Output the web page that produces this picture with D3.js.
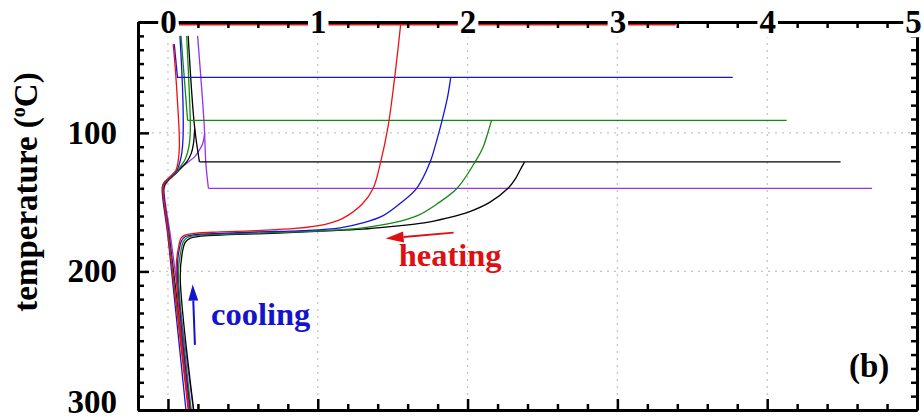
<!DOCTYPE html>
<html><head><meta charset="utf-8">
<script src="https://cdn.jsdelivr.net/npm/d3@7"></script>
<style>
body{margin:0;background:#fff;}
svg{display:block;font-family:"Liberation Serif","Times New Roman",serif;}
</style></head><body>
<svg id="chart" width="924" height="420"></svg>
<script>
// Isothermal hold temperatures (°C) of the five runs and their colours
const holdTemps = [22, 60, 91, 121, 140];
const seriesColors = ["#ee1111", "#1414dd", "#138a13", "#000000", "#9b30ee"];

// Extent of each isothermal hold along x
const holdStart = [0.073, 0.064, 0.131, 0.21, 0.27];
const holdEnd   = [3.39, 3.77, 4.13, 4.49, 4.70];

// Steep branch from room temperature down through the supercooling kink to 300 °C  [x, T]
const coolRed = [[0.035,36],[0.05,55],[0.065,80],[0.075,100],[0.076,111],[0.07,119],[0.053,127],[0.02,131],[-0.01,134],[-0.03,136.5],[-0.035,139],[0.0,172],[0.135,300]];
const coolBlue = [[0.08,30],[0.09,50],[0.098,70],[0.102,91],[0.1,105],[0.093,114],[0.08,121],[0.06,127],[0.03,130.5],[0.0,133.5],[-0.025,136],[-0.038,139],[0.0,175],[0.12,300]];
const coolGreen = [[0.125,30],[0.138,60],[0.149,91],[0.148,102],[0.138,111],[0.115,119],[0.085,124],[0.06,128],[0.03,131],[0.0,134],[-0.025,137],[-0.033,140],[0.005,175],[0.14,300]];
const coolBlack = [[0.178,97],[0.17,108],[0.155,115],[0.125,121],[0.09,125],[0.06,128.5],[0.03,131.5],[0.0,134.5],[-0.022,137.5],[-0.03,140.5],[0.01,176],[0.15,300]];
const coolPurple = [[0.245,100],[0.231,108],[0.2,114],[0.176,117.5],[0.13,121.5],[0.09,125],[0.064,128],[0.035,131],[0.005,134],[-0.018,137.5],[-0.026,141],[0.02,177],[0.17,300]];

// Short branch from room temperature to the start of each hold  [x, T]
const upperRed = [];
const upperBlue = [[0.042,36],[0.064,60.5]];
const upperGreen = [[0.087,30],[0.131,91]];
const upperBlack = [[0.135,30],[0.176,94],[0.21,121]];
const upperPurple = [[0.198,30],[0.242,94.5],[0.253,122],[0.27,140]];

// Heating branch: from the hold temperature through the melting plateau  [x, T]
const heatRed = [[1.553,22],[1.535,40],[1.51,63],[1.47,95],[1.42,121],[1.37,140],[1.3,151],[1.17,161.5],[1.05,166],[0.85,169],[0.6,170.5],[0.35,171.5],[0.18,172.5],[0.11,174],[0.087,176],[0.07,183],[0.055,197],[0.14,300]];
const heatBlue = [[1.887,60.5],[1.865,75],[1.83,91],[1.79,107],[1.75,121],[1.66,140],[1.56,150],[1.44,159.5],[1.3,165],[1.15,168.5],[0.9,170.5],[0.6,171.5],[0.35,172.5],[0.18,173.5],[0.115,175],[0.093,177.5],[0.075,184],[0.062,198],[0.147,300]];
const heatGreen = [[2.16,91],[2.135,100],[2.105,110],[2.05,121],[1.93,140],[1.8,151],[1.67,159.5],[1.5,165],[1.3,168.5],[1.05,170.5],[0.7,172],[0.4,173],[0.2,174],[0.13,175.5],[0.103,178.5],[0.085,186],[0.07,200],[0.155,300]];
const heatBlack = [[2.38,121],[2.35,127],[2.32,133],[2.27,140],[2.15,150],[2.01,157],[1.86,161.5],[1.71,165],[1.5,167.5],[1.3,169.5],[1.0,171],[0.7,172.5],[0.4,173.5],[0.22,174.5],[0.15,176],[0.115,179],[0.095,187],[0.082,204],[0.172,300]];
const heatPurple = [];

// Axis ticks
const xMajorTicks = [0, 1, 2, 3, 4, 5];
const yMajorTicks = [100, 200, 300];

const coolPaths = [coolRed, coolBlue, coolGreen, coolBlack, coolPurple];
const upperPaths = [upperRed, upperBlue, upperGreen, upperBlack, upperPurple];
const heatPaths = [heatRed, heatBlue, heatGreen, heatBlack, heatPurple];

const series = holdTemps.map((t, i) => ({
  color: seriesColors[i],
  paths: [
    coolPaths[i],
    upperPaths[i],
    heatPaths[i],
    [[holdStart[i], t], [holdEnd[i], t]]
  ].filter(p => p.length > 1)
}));

const m = {left: 138, right: 917, top: 22, bottom: 410};
const x = d3.scaleLinear().domain([-0.2, 5]).range([m.left, m.right]);
const y = d3.scaleLinear().domain([20, 300]).range([m.top, m.bottom]);

const svg = d3.select("#chart");

svg.append("defs").append("clipPath").attr("id", "plot")
  .append("rect").attr("x", m.left).attr("y", m.top)
  .attr("width", m.right - m.left).attr("height", m.bottom - m.top);

// dotted grid
const grid = svg.append("g").attr("stroke", "#c4c4c4").attr("stroke-width", 1.3)
  .attr("stroke-dasharray", "2,5");
grid.selectAll("line.v").data(xMajorTicks).join("line")
  .attr("x1", d => x(d)).attr("x2", d => x(d)).attr("y1", m.top).attr("y2", m.bottom);
grid.selectAll("line.h").data([100, 200]).join("line")
  .attr("y1", d => y(d)).attr("y2", d => y(d)).attr("x1", m.left).attr("x2", m.right);

// curves
const line = d3.line().x(d => x(d[0])).y(d => y(d[1])).curve(d3.curveCatmullRom.alpha(0.5));
const curves = svg.append("g").attr("clip-path", "url(#plot)").attr("fill", "none")
  .attr("stroke-width", 1.3).attr("stroke-linejoin", "round");
series.slice().reverse().forEach(s => {
  curves.selectAll(null).data(s.paths).join("path")
    .attr("stroke", s.color).attr("d", line);
});

// annotations
function arrow(x0, t0, x1, t1, color, len, half) {
  const ax = x(x0), ay = y(t0), bx = x(x1), by = y(t1);
  const ang = Math.atan2(by - ay, bx - ax);
  const cx = bx - len * Math.cos(ang), cy = by - len * Math.sin(ang);
  const nx = -Math.sin(ang) * half, ny = Math.cos(ang) * half;
  svg.append("line").attr("x1", ax).attr("y1", ay).attr("x2", cx).attr("y2", cy)
    .attr("stroke", color).attr("stroke-width", 2);
  svg.append("path")
    .attr("d", `M${bx},${by}L${cx + nx},${cy + ny}L${cx - nx},${cy - ny}Z`)
    .attr("fill", color);
}
arrow(1.907, 172, 1.453, 176.3, "#dd1111", 18, 5.5);
arrow(0.18, 253, 0.165, 209.5, "#1414cc", 16, 5);

svg.append("text").attr("x", x(1.54)).attr("y", y(196.4))
  .attr("font-size", 32.5).attr("font-weight", "bold").attr("fill", "#dd1111").text("heating");
svg.append("text").attr("x", x(0.287)).attr("y", y(238.6))
  .attr("font-size", 32.5).attr("font-weight", "bold").attr("fill", "#1414cc").text("cooling");
svg.append("text").attr("x", 849).attr("y", 377)
  .attr("font-size", 33).attr("font-weight", "bold").text("(b)");

// axes
const minorX = d3.range(-0.2, 5.001, 0.2).filter(v => Math.abs(v - Math.round(v)) > 1e-6);
const minorY = d3.range(30, 300, 10).filter(v => v % 100 !== 0);

function styleAxis(g) {
  g.selectAll(".domain").attr("stroke", "#000").attr("stroke-width", 3);
  g.selectAll(".tick line").attr("stroke", "#000").attr("stroke-width", 2.5);
}

// bottom
svg.append("g").attr("transform", `translate(0,${m.bottom})`)
  .call(d3.axisBottom(x).tickValues(minorX).tickSize(-6).tickSizeOuter(0).tickFormat(""))
  .call(styleAxis);
svg.append("g").attr("transform", `translate(0,${m.bottom})`)
  .call(d3.axisBottom(x).tickValues(xMajorTicks).tickSize(-11).tickSizeOuter(0).tickFormat(""))
  .call(styleAxis);
// right
svg.append("g").attr("transform", `translate(${m.right},0)`)
  .call(d3.axisRight(y).tickValues(minorY.concat([100, 200])).tickSize(-6).tickSizeOuter(0).tickFormat(""))
  .call(styleAxis);
// left
svg.append("g").attr("transform", `translate(${m.left},0)`)
  .call(d3.axisLeft(y).tickValues(minorY).tickSize(-6).tickSizeOuter(0).tickFormat(""))
  .call(styleAxis);
const yAxis = svg.append("g").attr("transform", `translate(${m.left},0)`)
  .call(d3.axisLeft(y).tickValues(yMajorTicks).tickSize(-11).tickSizeOuter(0).tickPadding(21).tickFormat(d3.format("d")))
  .call(styleAxis);
yAxis.selectAll("text").attr("font-size", 33).attr("font-weight", "bold")
  .attr("font-family", "Liberation Serif, serif").attr("fill", "#000");
// the bottom label is lifted just enough to stay on the page
yAxis.selectAll(".tick").filter(d => d === 300).select("text").attr("dy", "0.08em");
// top
svg.append("g").attr("transform", `translate(0,${m.top})`)
  .call(d3.axisTop(x).tickValues(minorX).tickSize(-6).tickSizeOuter(0).tickFormat(""))
  .call(styleAxis);
const xAxis = svg.append("g").attr("transform", `translate(0,${m.top})`)
  .call(d3.axisTop(x).tickValues(xMajorTicks).tickSize(-11).tickSizeOuter(0).tickFormat(d3.format("d")))
  .call(styleAxis);
xAxis.selectAll("text").attr("y", 0).attr("dy", "0.34em").attr("font-size", 33)
  .attr("font-weight", "bold").attr("font-family", "Liberation Serif, serif").attr("fill", "#000");
// the last label sits just inside the right edge of the page
xAxis.selectAll(".tick").filter(d => d === 5).select("text").attr("x", -4);
xAxis.selectAll(".tick").each(function() {
  const t = d3.select(this).select("text");
  const b = t.node().getBBox();
  d3.select(this).insert("rect", "text")
    .attr("x", b.x - 2).attr("y", b.y + 3).attr("width", b.width + 4).attr("height", b.height - 6)
    .attr("fill", "#fff");
});

// y axis title
const title = svg.append("text").attr("transform", "translate(37,192) rotate(-90)")
  .attr("text-anchor", "middle").attr("font-size", 33).attr("font-weight", "bold");
title.append("tspan").text("temperature (");
title.append("tspan").attr("font-size", 20).attr("dy", "-0.6em").text("o");
title.append("tspan").attr("dy", "0.36em").text("C)");
</script>
</body></html>
